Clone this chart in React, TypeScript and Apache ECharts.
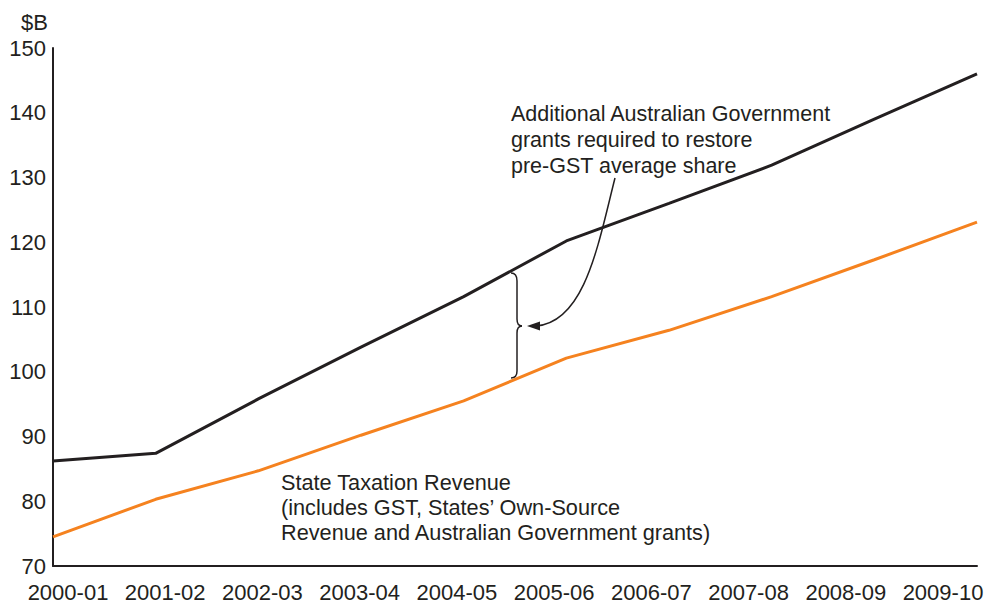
import React, { useEffect, useRef } from "react";
import * as echarts from "echarts";

const categories = [
  "2000-01", "2001-02", "2002-03", "2003-04", "2004-05",
  "2005-06", "2006-07", "2007-08", "2008-09", "2009-10",
];
const requiredTotal = [86.2, 87.4, 95.8, 103.8, 111.6, 120.2, 126.0, 131.9, 139.0, 146.0];
const stateTaxation = [74.5, 80.3, 84.7, 90.2, 95.5, 102.1, 106.4, 111.6, 117.3, 123.1];
const yMin = 70;
const yMax = 150;
const yStep = 10;

const upperNote = "Additional Australian Government\ngrants required to restore\npre-GST average share";
const lowerNote = "State Taxation Revenue\n(includes GST, States\u2019 Own-Source\nRevenue and Australian Government grants)";
const unitLabel = "$B";

const INK = "#231f20";
const ORANGE = "#f5821f";
const FONT = "'Liberation Sans', Arial, Helvetica, sans-serif";

export default function App() {
  const ref = useRef<HTMLDivElement>(null);

  useEffect(() => {
    if (!ref.current) return;
    const chart = echarts.init(ref.current, null, { renderer: "svg" });
    const lineStyle = { stroke: INK, lineWidth: 1.5, fill: "none" };
    chart.setOption({
      animation: false,
      backgroundColor: "#ffffff",
      textStyle: { fontFamily: FONT, color: INK },
      grid: [
        { left: 53, right: 22, top: 48, bottom: 37 },
        { left: 68, right: 56, top: 48, bottom: 37 },
      ],
      xAxis: [
        {
          type: "category",
          gridIndex: 0,
          data: categories,
          boundaryGap: false,
          axisLine: { show: true, lineStyle: { color: INK, width: 2 } },
          axisTick: { show: false },
          axisLabel: { show: false },
          splitLine: { show: false },
        },
        {
          type: "category",
          gridIndex: 1,
          data: categories,
          boundaryGap: false,
          axisLine: { show: false },
          axisTick: { show: false },
          axisLabel: { show: true, margin: 15, fontSize: 22, color: INK, fontFamily: FONT, interval: 0 },
          splitLine: { show: false },
        },
      ],
      yAxis: [
        {
          type: "value",
          gridIndex: 0,
          min: yMin,
          max: yMax,
          interval: yStep,
          axisLine: { show: true, lineStyle: { color: INK, width: 2 } },
          axisTick: { show: false },
          axisLabel: { margin: 7, fontSize: 22, color: INK, fontFamily: FONT },
          splitLine: { show: false },
        },
        {
          type: "value",
          gridIndex: 1,
          min: yMin,
          max: yMax,
          show: false,
        },
      ],
      series: [
        {
          name: "Required",
          type: "line",
          xAxisIndex: 0,
          yAxisIndex: 0,
          data: requiredTotal,
          symbol: "none",
          lineStyle: { color: INK, width: 3 },
          itemStyle: { color: INK },
        },
        {
          name: "State Taxation Revenue",
          type: "line",
          xAxisIndex: 0,
          yAxisIndex: 0,
          data: stateTaxation,
          symbol: "none",
          lineStyle: { color: ORANGE, width: 3 },
          itemStyle: { color: ORANGE },
        },
      ],
      graphic: [
        {
          type: "text",
          x: 48,
          y: 22,
          style: { text: unitLabel, fontSize: 22, fontFamily: FONT, fill: INK, align: "right", verticalAlign: "middle" },
        },
        {
          type: "text",
          x: 511,
          y: 140,
          style: { text: upperNote, fontSize: 21.5, lineHeight: 26, fontFamily: FONT, fill: INK, align: "left", verticalAlign: "middle" },
        },
        {
          type: "text",
          x: 281,
          y: 507,
          style: { text: lowerNote, fontSize: 21.7, lineHeight: 25, fontFamily: FONT, fill: INK, align: "left", verticalAlign: "middle" },
        },
        // curly brace
        { type: "bezierCurve", shape: { x1: 511, y1: 273, cpx1: 517, cpy1: 273, x2: 517, y2: 281 }, style: lineStyle },
        { type: "line", shape: { x1: 517, y1: 281, x2: 517, y2: 319 }, style: lineStyle },
        { type: "bezierCurve", shape: { x1: 517, y1: 319, cpx1: 517, cpy1: 326, x2: 522, y2: 326 }, style: lineStyle },
        { type: "bezierCurve", shape: { x1: 522, y1: 326, cpx1: 517, cpy1: 326, x2: 517, y2: 333 }, style: lineStyle },
        { type: "line", shape: { x1: 517, y1: 333, x2: 517, y2: 371 }, style: lineStyle },
        { type: "bezierCurve", shape: { x1: 517, y1: 371, cpx1: 517, cpy1: 378, x2: 511, y2: 378 }, style: lineStyle },
        // arrow
        {
          type: "bezierCurve",
          shape: { x1: 615, y1: 178, cpx1: 598, cpy1: 245, cpx2: 585, cpy2: 322, x2: 536, y2: 326 },
          style: lineStyle,
        },
        {
          type: "polygon",
          shape: { points: [[527, 326], [540, 321.5], [540, 330.5]] },
          style: { fill: INK },
        },
      ],
    });
    return () => chart.dispose();
  }, []);

  return (
    <div
      ref={ref}
      style={{ position: "fixed", left: 0, top: 0, width: 999, height: 603, background: "#fff" }}
    />
  );
}
